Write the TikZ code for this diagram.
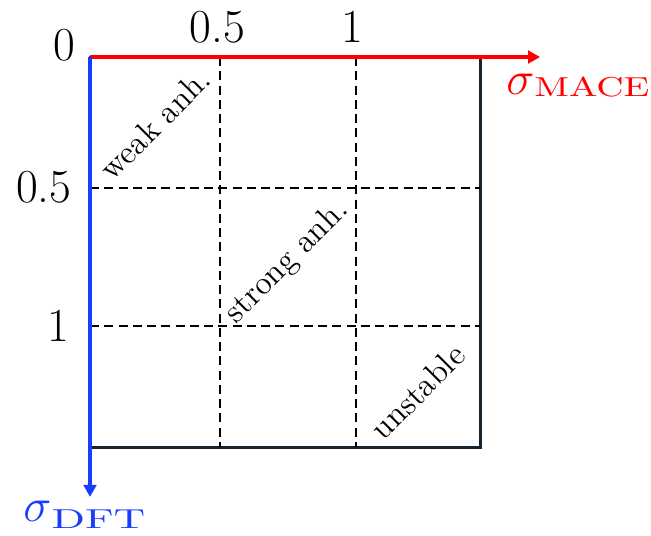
\documentclass[tikz,border=0pt]{standalone}
\definecolor{macered}{RGB}{255, 0, 0}
\definecolor{dftblue}{RGB}{25, 60, 255}
\definecolor{framenavy}{RGB}{22, 36, 48}
\usepackage{tikz}
\usetikzlibrary{arrows.meta, positioning, calc}
\usepackage{amsmath}
% stretched subscript: #1 = width factor, #2 = drop, #3 = text
\newcommand{\widesub}[3]{\raisebox{-#2}{\scalebox{#1}[1]{\normalsize #3}}}
\tikzset{
    axisarrow/.style={-{Triangle[length=4.4pt, width=4.6pt]}, line width=1.5pt},
    framebox/.style={draw=framenavy, line width=1.1pt},
    gridline/.style={dash pattern=on 3.3pt off 1.9pt, line width=0.6pt},
    ticklabel/.style={font=\LARGE, inner sep=0pt},
    regionlabel/.style={font=\large, rotate=45, inner sep=0pt},
    axislabel/.style={font=\LARGE, inner sep=0pt, anchor=base west},
}

\begin{document}
\begin{tikzpicture}
    \useasboundingbox (-1.154, 0.731) rectangle (7.192, -6.128);

    % Corners of the frame
    \coordinate (origin) at (0, 0);
    \coordinate (far) at (5, -5);
    \coordinate (xtip) at (5.77, 0);
    \coordinate (ytip) at (0, -5.64);

    % Frame
    \draw[framebox] (origin) rectangle (far);

    % Grid
    \foreach \gx/\gname in {1.667/half, 3.41/one} {
        \coordinate (top\gname) at (\gx, 0);
        \coordinate (bot\gname) at (\gx, -5);
        \draw[gridline] (top\gname) -- (bot\gname);
    }
    \foreach \gy/\gname in {-1.68/half, -3.45/one} {
        \coordinate (left\gname) at (0, \gy);
        \coordinate (right\gname) at (5, \gy);
        \draw[gridline] (left\gname) -- (right\gname);
    }

    % Regions
    \node[regionlabel] (weak) at (0.833, -0.859) {weak anh.};
    \node[regionlabel] (strong) at (2.53, -2.63) {strong anh.};
    \node[regionlabel] (unstable) at (4.2, -4.29) {unstable};

    % Axes
    \draw[axisarrow, macered] (origin) -- (xtip);
    \draw[axisarrow, dftblue] (origin) -- (ytip);

    % Tick labels
    \node[ticklabel, anchor=base] (zero) at (-0.335, -0.04) {0};
    \node[ticklabel, anchor=base] (xhalf) at (1.63, 0.18) {0.5};
    \node[ticklabel, anchor=base] (xone) at (3.36, 0.18) {1};
    \node[ticklabel, anchor=east] (yhalf) at (-0.23, -1.67) {0.5};
    \node[ticklabel, anchor=east] (yone) at (-0.256, -3.44) {1};

    % Axis names
    \node[axislabel, text=macered] (mace) at (5.33, -0.48) {$\sigma$\widesub{1.38}{0.8pt}{MACE}};
    \node[axislabel, text=dftblue] (dft) at (-0.86, -5.96) {$\sigma$\widesub{1.6}{2.4pt}{DFT}};
\end{tikzpicture}
\end{document}
